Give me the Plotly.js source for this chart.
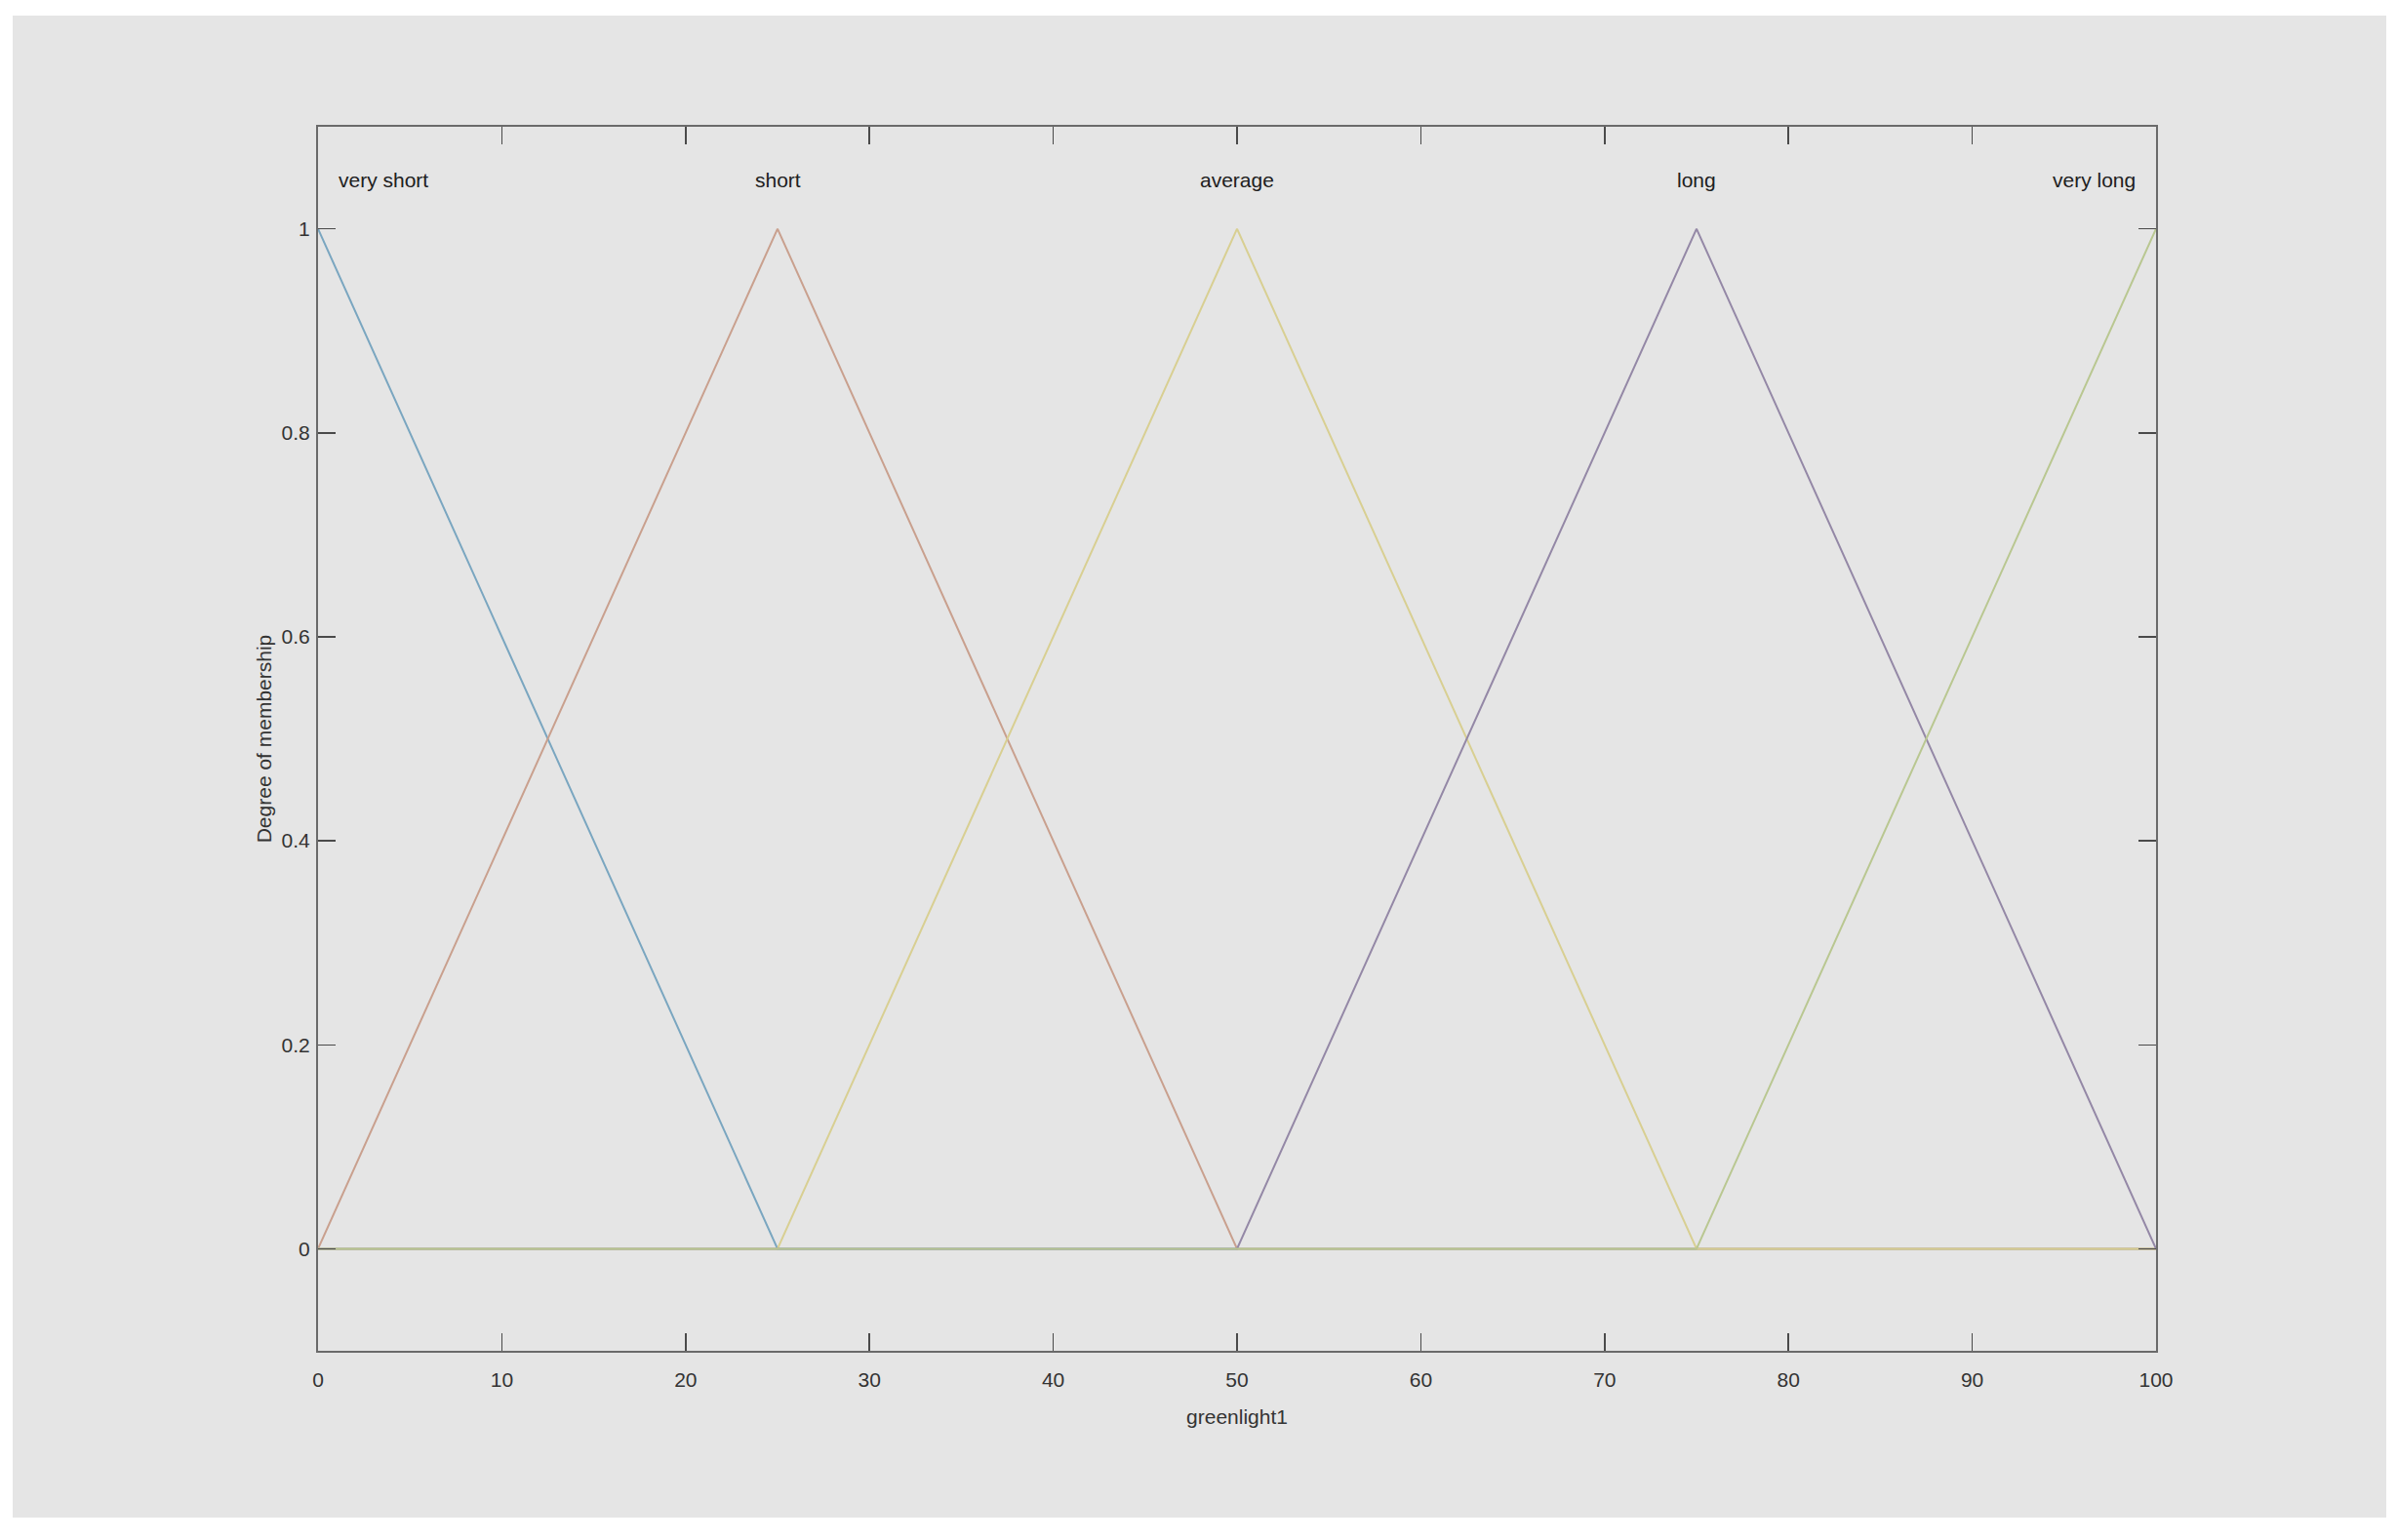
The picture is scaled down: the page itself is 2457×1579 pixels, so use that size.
<!DOCTYPE html>
<html>
<head>
<meta charset="utf-8">
<script src="https://cdn.plot.ly/plotly-3.0.1.min.js"></script>
<style>
  html, body { margin: 0; padding: 0; background: #ffffff; width: 2457px; height: 1579px; overflow: hidden; }
  #mf-plot { position: absolute; left: 13px; top: 16px; width: 2433px; height: 1540px; }
</style>
</head>
<body>
<div id="mf-plot"></div>
<script>
// membership functions of input greenlight1 (triangular, sampled at breakpoints)
const xPoints = [0, 25, 50, 75, 100];
const mfNames = ['very short', 'short', 'average', 'long', 'very long'];
const veryShort = [1, 0, 0, 0, 0];
const short = [0, 1, 0, 0, 0];
const average = [0, 0, 1, 0, 0];
const long = [0, 0, 0, 1, 0];
const veryLong = [0, 0, 0, 0, 1];
const mfColors = ['#7aa6c0', '#c9a08e', '#d8cf92', '#9488a6', '#b9c791'];

const series = [veryShort, short, average, long, veryLong];

const traces = series.map((ys, i) => ({
    x: xPoints,
    y: ys,
    type: 'scatter',
    mode: 'lines',
    name: mfNames[i],
    line: { color: mfColors[i], width: 2 },
    hoverinfo: 'skip'
}));

const FONT = 'Liberation Sans, Arial, sans-serif';

// label above each peak; end labels kept inside the box
const labels = mfNames.map((name, i) => {
    let xpos = xPoints[i];
    let anchor = 'center';
    if (i === 0) { xpos = 1; anchor = 'left'; }
    if (i === mfNames.length - 1) { xpos = 99; anchor = 'right'; }
    return {
        x: xpos, y: 1.048, xref: 'x', yref: 'y',
        text: name, showarrow: false, xanchor: anchor, yanchor: 'middle',
        font: { family: FONT, size: 21, color: '#202020' }
    };
});

const axisCommon = {
    showline: true,
    linecolor: '#6a6a6a',
    linewidth: 2,
    mirror: 'ticks',
    ticks: 'inside',
    ticklen: 18,
    tickwidth: 1.5,
    tickcolor: '#4a4a4a',
    showgrid: false,
    zeroline: false,
    tickfont: { family: FONT, size: 21, color: '#333333' }
};

const layout = {
    width: 2433,
    height: 1540,
    paper_bgcolor: '#e5e5e5',
    plot_bgcolor: '#e5e5e5',
    showlegend: false,
    margin: { l: 313, r: 236, t: 114, b: 171 },
    xaxis: Object.assign({}, axisCommon, {
        range: [0, 100],
        dtick: 10,
        tick0: 0,
        ticklabelstandoff: 10,
        title: { text: 'greenlight1', standoff: 20,
                 font: { family: FONT, size: 21, color: '#333333' } }
    }),
    yaxis: Object.assign({}, axisCommon, {
        range: [-0.1, 1.1],
        dtick: 0.2,
        tick0: 0,
        ticklabelstandoff: 2,
        title: { text: 'Degree of membership', standoff: 4,
                 font: { family: FONT, size: 21, color: '#333333' } }
    }),
    annotations: labels
};

Plotly.newPlot('mf-plot', traces, layout, { displayModeBar: false, staticPlot: true });
</script>
</body>
</html>
